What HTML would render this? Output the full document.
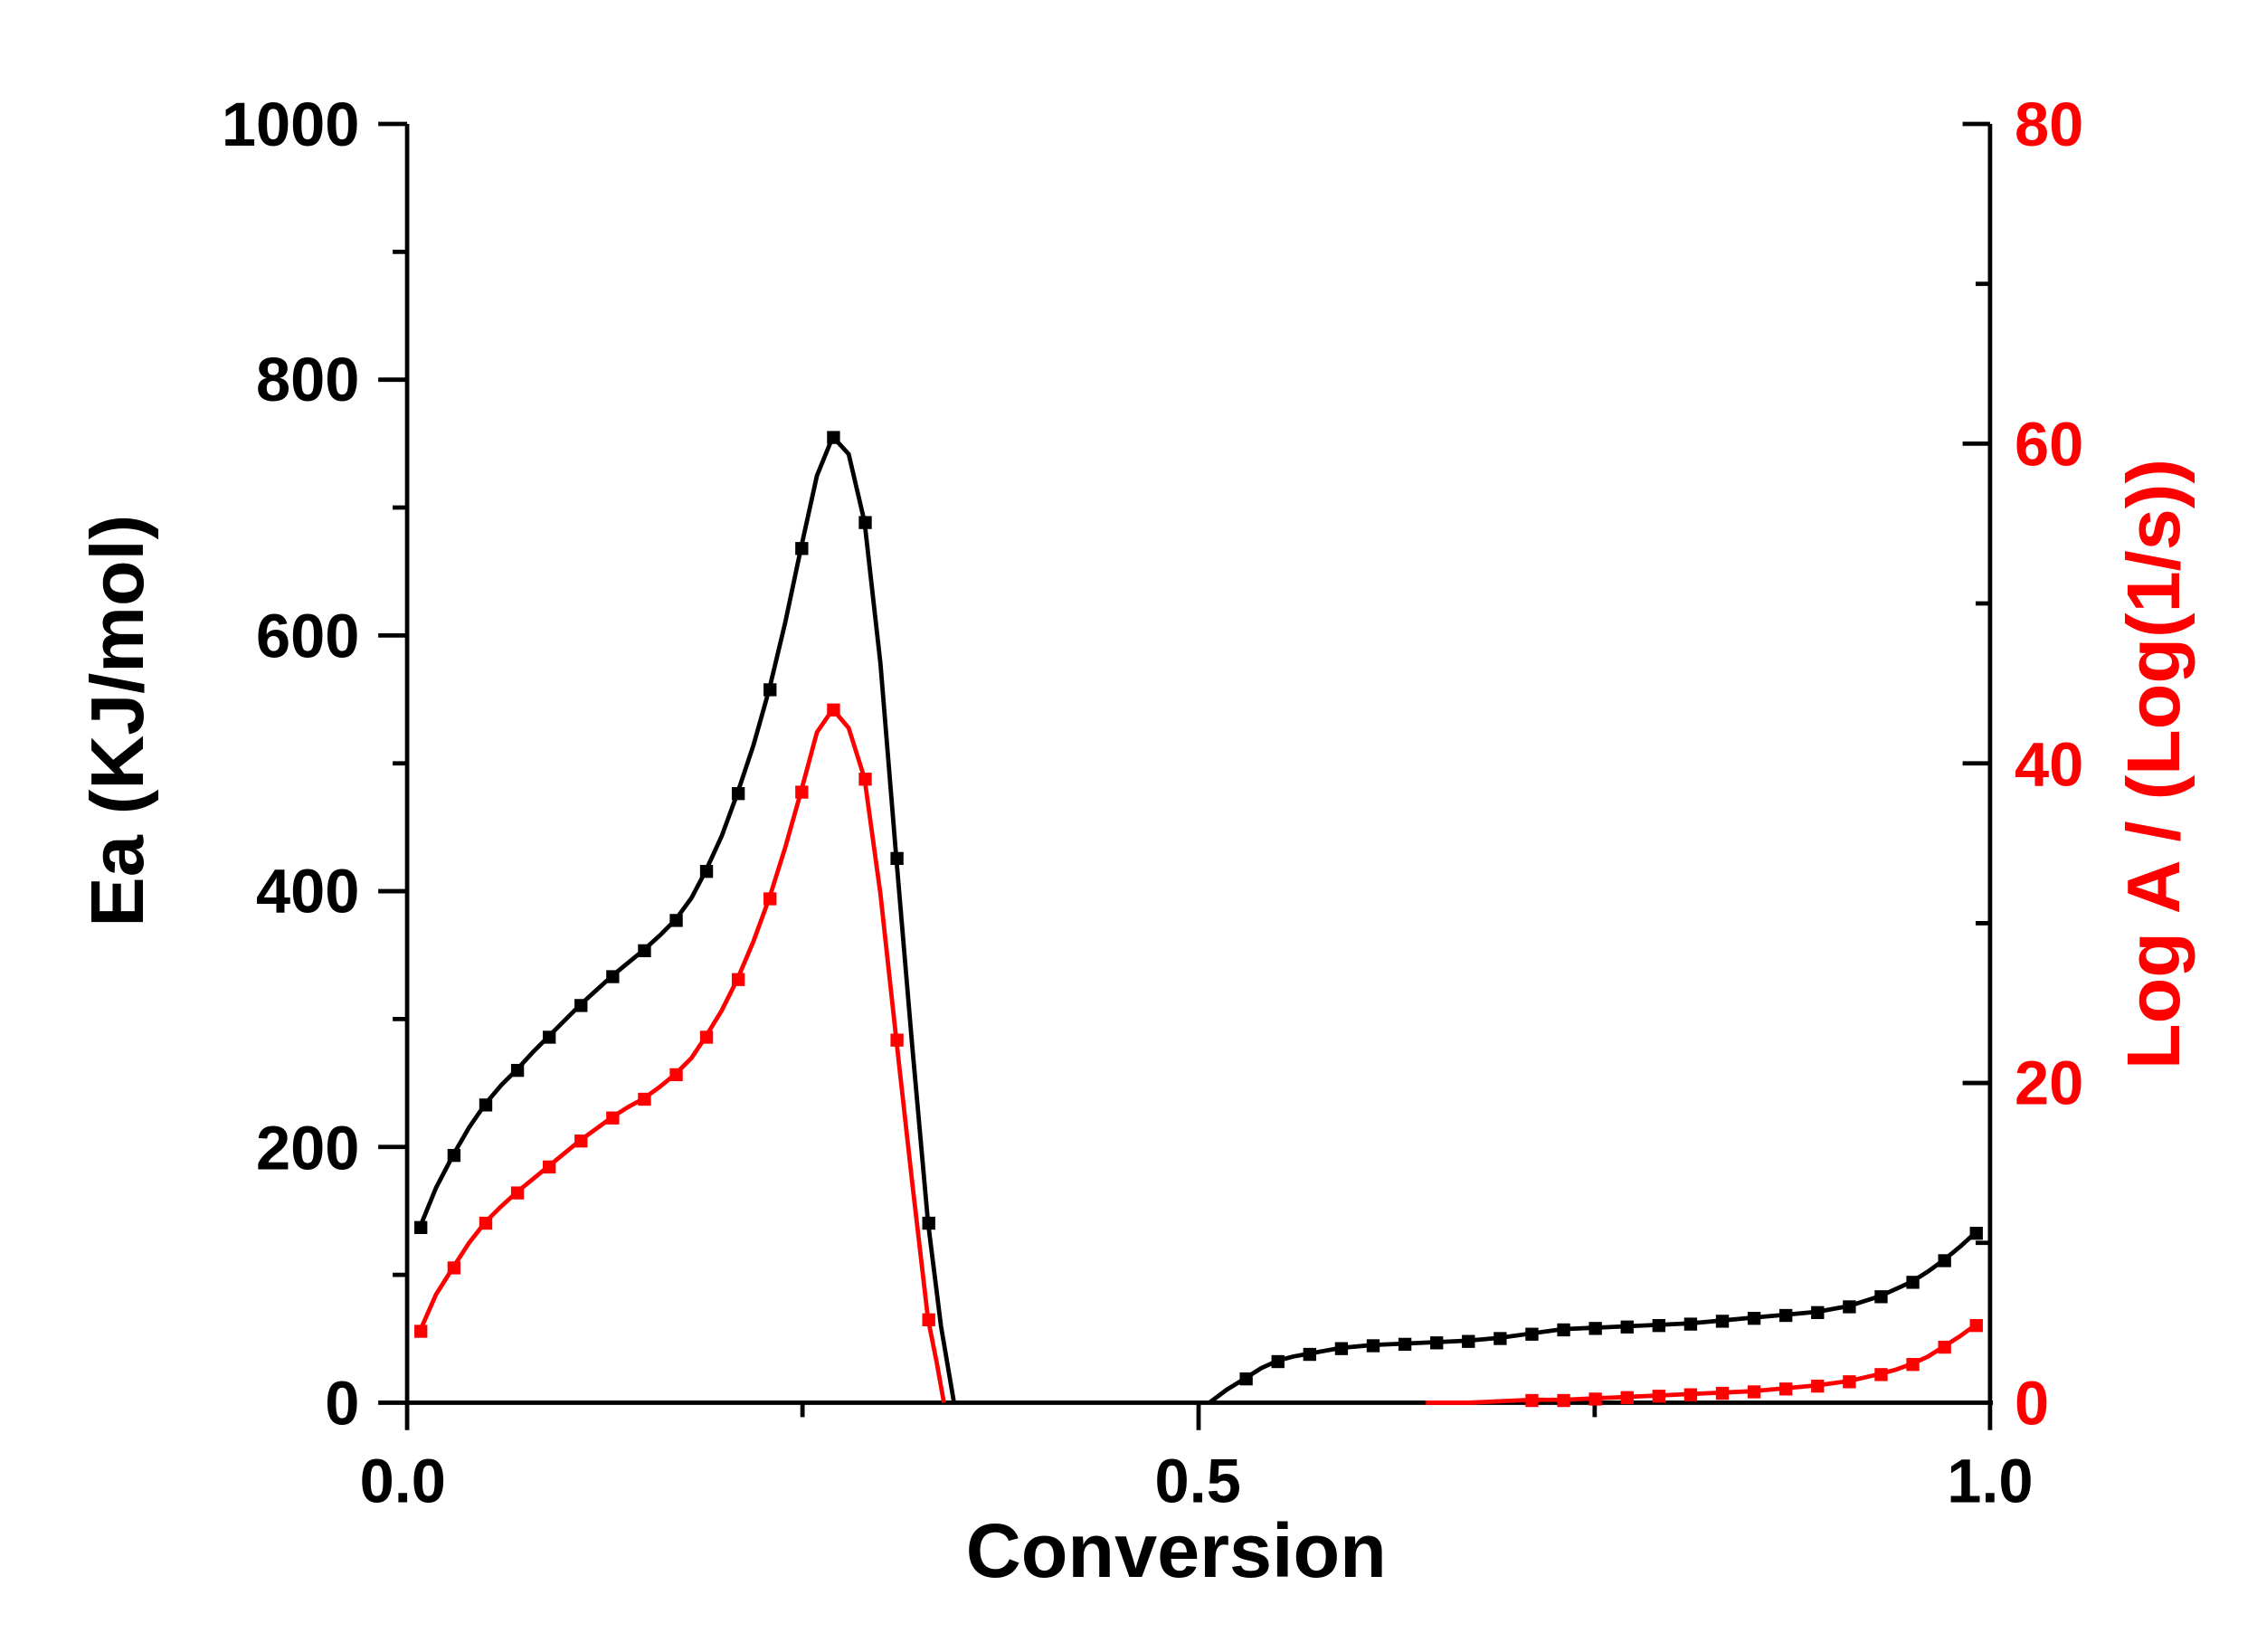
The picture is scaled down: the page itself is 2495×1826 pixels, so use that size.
<!DOCTYPE html>
<html><head><style>html,body{margin:0;padding:0;background:#fff}svg{display:block}</style></head>
<body>
<svg width="2495" height="1826" viewBox="0 0 1560 1141" preserveAspectRatio="none" xmlns="http://www.w3.org/2000/svg" font-family="Liberation Sans, Arial, sans-serif" font-weight="bold">
<g transform="matrix(0.99735 0 0 0.99572 -1.85 -0.03)">
<g stroke="#000" stroke-width="3" fill="none">
<line x1="284" y1="86" x2="284" y2="974"/>
<line x1="1381" y1="86" x2="1381" y2="974"/>
<line x1="282" y1="973" x2="1383" y2="973"/>
<path d="M264 86H284M264 263.4H284M264 440.8H284M264 618.2H284M264 795.6H284M264 973H284"/>
<path d="M274 174.7H284M274 352.1H284M274 529.5H284M274 706.9H284M274 884.3H284"/>
<path d="M1362 86H1381M1362 307.75H1381M1362 529.5H1381M1362 751.25H1381"/>
<path d="M1371 196.9H1381M1371 418.6H1381M1371 640.4H1381M1371 862.1H1381"/>
<path d="M284 973V992M832.5 973V992M1381 973V992M558 973V983M1107 973V983"/>
</g>
<g font-size="43" text-anchor="end" fill="#000">
<text x="251" y="101">1000</text>
<text x="251" y="278">800</text>
<text x="251" y="456">600</text>
<text x="251" y="633">400</text>
<text x="251" y="811">200</text>
<text x="251" y="988">0</text>
</g>
<g font-size="43" text-anchor="start" fill="#ff0000">
<text x="1398" y="101">80</text>
<text x="1398" y="323">60</text>
<text x="1398" y="545">40</text>
<text x="1398" y="766">20</text>
<text x="1398" y="988">0</text>
</g>
<g font-size="43" text-anchor="middle" fill="#000">
<text x="281" y="1042">0.0</text>
<text x="832" y="1042">0.5</text>
<text x="1381" y="1042">1.0</text>
</g>
<text x="817" y="1094" font-size="53" text-anchor="middle">Conversion</text>
<text transform="translate(101,500) rotate(-90)" font-size="52" text-anchor="middle">Ea (KJ/mol)</text>
<text transform="translate(1512,530) rotate(-90)" font-size="52" text-anchor="middle" fill="#ff0000">Log A / (Log(1/s))</text>

<g fill="none" stroke-width="3" stroke-linejoin="round">
<polyline stroke="#000" points="293,851 304,824 316,801 327,782 338,766 349,753 360,742 371,730 382,719 393,708 404,697 415,687 426,677 437,668 448,659 459,649 470,638 481,623 491,604 502,580 513,550 524,517 535,478 546,432 557,380 568,330 579,303 590,315 601,362 612,460 623,595 634,725 645,848 654,920 663,973"/>
<polyline stroke="#000" points="840,973 852,964 865,956 876,949 887,944 898,941 909,939 920,937 931,935 953,933 975,932 997,931 1019,930 1041,928 1063,925 1085,922 1107,921 1129,920 1151,919 1173,918 1195,916 1217,914 1239,912 1261,910 1283,906 1305,899 1316,894 1327,889 1338,882 1349,874 1360,865 1371,855"/>
<polyline stroke="#ff0000" points="293,923 304,898 316,879 327,862 338,848 349,837 360,827 371,818 382,809 393,800 404,791 415,783 426,775 437,768 448,762 459,754 470,745 481,734 491,719 502,701 513,679 524,653 535,623 546,588 557,549 568,508 579,492 590,505 601,540 612,620 623,721 634,820 645,915 651,945 656,973"/>
<polyline stroke="#ff0000" points="990,973 1020,973 1041,972 1063,971 1085,971 1107,970 1129,969 1151,968 1173,967 1195,966 1217,965 1239,963 1261,961 1283,958 1305,953 1316,950 1327,946 1338,941 1349,934 1360,927 1371,919"/>
</g>
<g fill="#000">
<rect x="289" y="847" width="9" height="9"/><rect x="312" y="797" width="9" height="9"/><rect x="334" y="762" width="9" height="9"/><rect x="356" y="738" width="9" height="9"/><rect x="378" y="715" width="9" height="9"/><rect x="400" y="693" width="9" height="9"/><rect x="422" y="673" width="9" height="9"/><rect x="444" y="655" width="9" height="9"/><rect x="466" y="634" width="9" height="9"/><rect x="487" y="600" width="9" height="9"/><rect x="509" y="546" width="9" height="9"/><rect x="531" y="474" width="9" height="9"/><rect x="553" y="376" width="9" height="9"/><rect x="575" y="299" width="9" height="9"/><rect x="597" y="358" width="9" height="9"/><rect x="619" y="591" width="9" height="9"/><rect x="641" y="844" width="9" height="9"/>
<rect x="861" y="952" width="9" height="9"/><rect x="883" y="940" width="9" height="9"/><rect x="905" y="935" width="9" height="9"/><rect x="927" y="931" width="9" height="9"/><rect x="949" y="929" width="9" height="9"/><rect x="971" y="928" width="9" height="9"/><rect x="993" y="927" width="9" height="9"/><rect x="1015" y="926" width="9" height="9"/><rect x="1037" y="924" width="9" height="9"/><rect x="1059" y="921" width="9" height="9"/><rect x="1081" y="918" width="9" height="9"/><rect x="1103" y="917" width="9" height="9"/><rect x="1125" y="916" width="9" height="9"/><rect x="1147" y="915" width="9" height="9"/><rect x="1169" y="914" width="9" height="9"/><rect x="1191" y="912" width="9" height="9"/><rect x="1213" y="910" width="9" height="9"/><rect x="1235" y="908" width="9" height="9"/><rect x="1257" y="906" width="9" height="9"/><rect x="1279" y="902" width="9" height="9"/><rect x="1301" y="895" width="9" height="9"/><rect x="1323" y="885" width="9" height="9"/><rect x="1345" y="870" width="9" height="9"/><rect x="1367" y="851" width="9" height="9"/>
</g>
<g fill="#ff0000">
<rect x="289" y="919" width="9" height="9"/><rect x="312" y="875" width="9" height="9"/><rect x="334" y="844" width="9" height="9"/><rect x="356" y="823" width="9" height="9"/><rect x="378" y="805" width="9" height="9"/><rect x="400" y="787" width="9" height="9"/><rect x="422" y="771" width="9" height="9"/><rect x="444" y="758" width="9" height="9"/><rect x="466" y="741" width="9" height="9"/><rect x="487" y="715" width="9" height="9"/><rect x="509" y="675" width="9" height="9"/><rect x="531" y="619" width="9" height="9"/><rect x="553" y="545" width="9" height="9"/><rect x="575" y="488" width="9" height="9"/><rect x="597" y="536" width="9" height="9"/><rect x="619" y="717" width="9" height="9"/><rect x="641" y="911" width="9" height="9"/>
<rect x="1059" y="967" width="9" height="9"/><rect x="1081" y="967" width="9" height="9"/><rect x="1103" y="966" width="9" height="9"/><rect x="1125" y="965" width="9" height="9"/><rect x="1147" y="964" width="9" height="9"/><rect x="1169" y="963" width="9" height="9"/><rect x="1191" y="962" width="9" height="9"/><rect x="1213" y="961" width="9" height="9"/><rect x="1235" y="959" width="9" height="9"/><rect x="1257" y="957" width="9" height="9"/><rect x="1279" y="954" width="9" height="9"/><rect x="1301" y="949" width="9" height="9"/><rect x="1323" y="942" width="9" height="9"/><rect x="1345" y="930" width="9" height="9"/><rect x="1367" y="915" width="9" height="9"/>
</g>
</g>
</svg>
</body></html>
